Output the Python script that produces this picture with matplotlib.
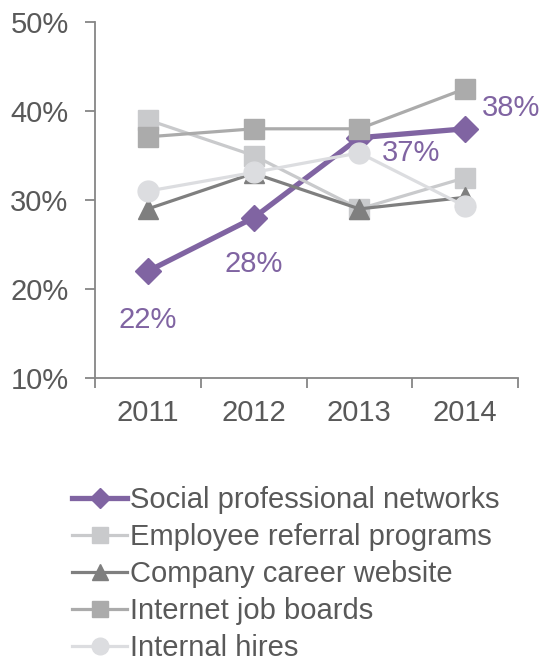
import matplotlib
matplotlib.use("Agg")
import matplotlib.pyplot as plt
from matplotlib.lines import Line2D

plt.rcParams['font.family'] = ['Liberation Sans', 'DejaVu Sans']

years = ['2011', '2012', '2013', '2014']
social = [22, 28, 37, 38]
employee = [39, 35, 29, 32.5]
company = [29, 33, 29, 30.3]
internet = [37.1, 38, 38, 42.5]
internal = [31, 33.1, 35.3, 29.3]
series_names = ['Social professional networks', 'Employee referral programs',
                'Company career website', 'Internet job boards', 'Internal hires']
social_labels = ['22%', '28%', '37%', '38%']

purple = '#8064A2'
c_emp = '#C9CACC'
c_comp = '#7F7F7F'
c_int = '#ABABAB'
c_hire = '#DCDDE0'
text_col = '#595959'
axis_col = '#868686'
FS = 21

fig = plt.figure(figsize=(5.43, 6.62), dpi=100)
ax = fig.add_axes([95/543, 1-378/662, (518-95)/543, (378-22)/662])

x = [0.5, 1.5, 2.5, 3.5]
ax.plot(x, social, color=purple, lw=3.8, marker='D', ms=13, zorder=2)
ax.plot(x, employee, color=c_emp, lw=2.3, marker='s', ms=14, zorder=3)
ax.plot(x, company, color=c_comp, lw=2.3, marker='^', ms=15, zorder=4)
ax.plot(x, internet, color=c_int, lw=2.3, marker='s', ms=14, zorder=5)
ax.plot(x, internal, color=c_hire, lw=2.3, marker='o', ms=15, zorder=6)

offsets = [(0, -25, 'center', 'top'), (0, -23, 'center', 'top'),
           (16.5, -11, 'left', 'center'), (12, 15, 'left', 'center')]
for xi, yi, lab, (dx, dy, ha, va) in zip(x, social, social_labels, offsets):
    ax.annotate(lab, (xi, yi), xytext=(dx, dy), textcoords='offset points',
                ha=ha, va=va, color=purple, fontsize=FS, zorder=10)

ax.set_xlim(0, 4)
ax.set_ylim(10, 50)
ax.set_xticks([0, 1, 2, 3, 4])
ax.set_xticklabels([])
ax.set_xticks(x, minor=True)
ax.set_xticklabels(years, minor=True)
ax.tick_params(axis='x', which='major', direction='out', length=7, color=axis_col, width=1.3)
ax.tick_params(axis='x', which='minor', length=0, pad=15, labelsize=FS, labelcolor=text_col)
ax.set_yticks([10, 20, 30, 40, 50])
ax.set_yticklabels(['10%', '20%', '30%', '40%', '50%'])
ax.tick_params(axis='y', direction='out', length=7, color=axis_col, width=1.3,
               labelsize=FS, labelcolor=text_col, pad=12)
for s in ['top', 'right']:
    ax.spines[s].set_visible(False)
for s in ['left', 'bottom']:
    ax.spines[s].set_color(axis_col)
    ax.spines[s].set_linewidth(1.3)

handles = [
    Line2D([], [], color=purple, lw=3.8, marker='D', ms=10),
    Line2D([], [], color=c_emp, lw=2.3, marker='s', ms=11),
    Line2D([], [], color=c_comp, lw=2.3, marker='^', ms=12),
    Line2D([], [], color=c_int, lw=2.3, marker='s', ms=11),
    Line2D([], [], color=c_hire, lw=2.3, marker='o', ms=12),
]
leg = fig.legend(handles, series_names, loc='upper left',
                 bbox_to_anchor=(72/543, 1-486/662), frameon=False,
                 fontsize=FS, handlelength=1.9, handletextpad=0.1,
                 labelspacing=0.31, borderaxespad=0, borderpad=0)
for t in leg.get_texts():
    t.set_color(text_col)

fig.savefig('out.png', dpi=100)
